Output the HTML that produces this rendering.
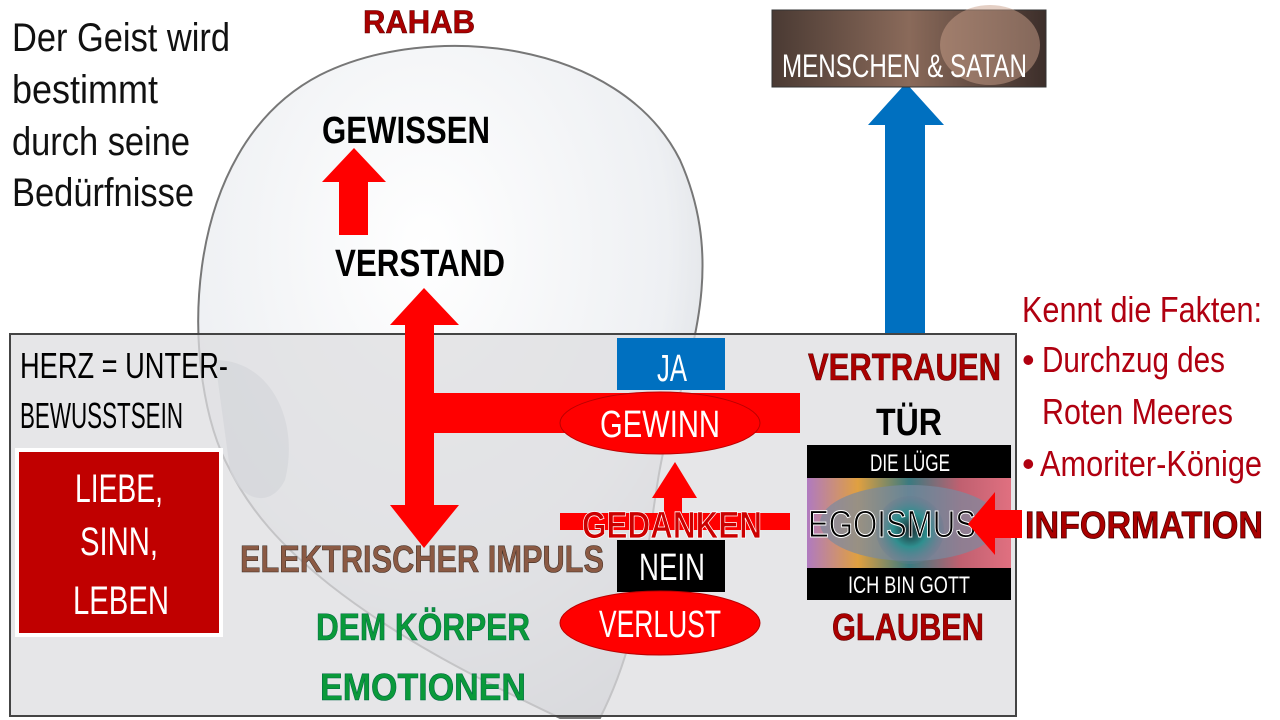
<!DOCTYPE html>
<html><head><meta charset="utf-8"><style>
html,body{margin:0;padding:0;background:#fff;width:1280px;height:720px;overflow:hidden}
svg{display:block}
text{font-family:"Liberation Sans Narrow","Liberation Sans",sans-serif}
</style></head><body>
<svg width="1280" height="720" viewBox="0 0 1280 720" xmlns="http://www.w3.org/2000/svg">
<defs>
<radialGradient id="hg" cx="0.45" cy="0.3" r="0.8">
<stop offset="0" stop-color="#ffffff"/><stop offset="0.6" stop-color="#eef0f3"/><stop offset="1" stop-color="#c9ccd2"/></radialGradient>
<linearGradient id="ph" x1="0" x2="1"><stop offset="0" stop-color="#4a3a33"/><stop offset="0.5" stop-color="#8a6a5a"/><stop offset="1" stop-color="#3c2e2a"/></linearGradient>
<linearGradient id="eye" x1="0" x2="1"><stop offset="0" stop-color="#b07ac0"/><stop offset="0.25" stop-color="#e0a040"/><stop offset="0.5" stop-color="#3a7a80"/><stop offset="0.75" stop-color="#c06070"/><stop offset="1" stop-color="#e07080"/></linearGradient>
<radialGradient id="iris" cx="0.5" cy="0.5" r="0.5"><stop offset="0" stop-color="#1a2a30"/><stop offset="0.5" stop-color="#2f8f8f"/><stop offset="1" stop-color="#6a7a90" stop-opacity="0.3"/></radialGradient>
</defs>
<!-- head -->
<path d="M230,470 C180,380 175,150 320,75 C430,20 620,40 680,160 C720,250 700,330 672,420 C645,500 655,610 600,718 L560,718 C480,680 400,640 330,585 C280,545 250,510 230,470 Z" fill="url(#hg)" stroke="#777" stroke-width="2"/>
<!-- box -->
<rect x="10" y="334" width="1006" height="382" fill="rgba(222,222,224,0.75)" stroke="#444" stroke-width="2"/>
<path d="M215,360 C270,360 300,420 285,480 C270,510 240,500 230,470" fill="#d4d6da" opacity="0.7"/>
<!-- text top left -->
<g font-size="40" fill="#111">
<text x="12" y="51" textLength="218" lengthAdjust="spacingAndGlyphs">Der Geist wird</text>
<text x="12" y="103" textLength="146" lengthAdjust="spacingAndGlyphs">bestimmt</text>
<text x="12" y="155" textLength="178" lengthAdjust="spacingAndGlyphs">durch seine</text>
<text x="12" y="206" textLength="182" lengthAdjust="spacingAndGlyphs">Bedürfnisse</text>
</g>
<text x="363" y="33" font-size="32" font-weight="bold" fill="#a00" stroke="#500" stroke-width="0.6" textLength="112" lengthAdjust="spacingAndGlyphs">RAHAB</text>
<text x="322" y="143" font-size="38" font-weight="bold" fill="#000" textLength="168" lengthAdjust="spacingAndGlyphs">GEWISSEN</text>
<text x="335" y="276" font-size="38" font-weight="bold" fill="#000" textLength="170" lengthAdjust="spacingAndGlyphs">VERSTAND</text>
<!-- red arrows -->
<polygon points="339,235 368,235 368,182 386,182 354,148 322,182 339,182" fill="#f00"/>
<polygon points="405,505 405,325 390,325 424,288 459,325 434,325 434,393 800,393 800,433 434,433 434,505 459,505 424,548 390,505" fill="#f00"/>
<!-- blue arrow -->
<polygon points="885,333 885,125 868,125 906,83 944,125 925,125 925,333" fill="#0070c0"/>
<!-- menschen image -->
<rect x="772" y="10" width="274" height="77" fill="url(#ph)" stroke="#333"/>
<ellipse cx="990" cy="45" rx="50" ry="40" fill="#c9a08a" opacity="0.5"/>
<text x="782" y="77" font-size="32" fill="#fff" textLength="245" lengthAdjust="spacingAndGlyphs">MENSCHEN &amp; SATAN</text>
<!-- HERZ -->
<text x="20" y="378" font-size="36" fill="#000" textLength="208" lengthAdjust="spacingAndGlyphs">HERZ = UNTER-</text>
<text x="20" y="428" font-size="36" fill="#000" textLength="163" lengthAdjust="spacingAndGlyphs">BEWUSSTSEIN</text>
<rect x="17" y="450" width="204" height="185" fill="#c00000" stroke="#fff" stroke-width="4"/>
<g font-size="40" fill="#fff">
<text x="75" y="502" textLength="88" lengthAdjust="spacingAndGlyphs">LIEBE,</text>
<text x="80" y="555" textLength="78" lengthAdjust="spacingAndGlyphs">SINN,</text>
<text x="73" y="614" textLength="96" lengthAdjust="spacingAndGlyphs">LEBEN</text></g>
<!-- JA -->
<rect x="617" y="338" width="108" height="52" fill="#0070c0"/>
<text x="657" y="381" font-size="38" fill="#fff" textLength="30" lengthAdjust="spacingAndGlyphs">JA</text>
<ellipse cx="660" cy="423" rx="100" ry="31" fill="#f00" stroke="#b00" stroke-width="1"/>
<text x="600" y="437" font-size="38" fill="#fff" textLength="120" lengthAdjust="spacingAndGlyphs">GEWINN</text>
<!-- gedanken -->
<rect x="560" y="513" width="230" height="17" fill="#f00"/>
<polygon points="664,513 682,513 682,498 697,498 675,462 652,498 664,498" fill="#f00"/>
<text x="582" y="538" font-size="38" font-weight="bold" fill="#c00" stroke="#fff" stroke-width="0.8" textLength="180" lengthAdjust="spacingAndGlyphs">GEDANKEN</text>
<text x="240" y="572" font-size="38" font-weight="bold" fill="#8b5a44" stroke="#3a2a22" stroke-width="0.6" textLength="364" lengthAdjust="spacingAndGlyphs">ELEKTRISCHER IMPULS</text>
<rect x="617" y="540" width="108" height="52" fill="#000"/>
<text x="639" y="580" font-size="38" fill="#fff" textLength="66" lengthAdjust="spacingAndGlyphs">NEIN</text>
<ellipse cx="660" cy="623" rx="100" ry="32" fill="#f00" stroke="#b00"/>
<text x="599" y="637" font-size="38" fill="#fff" textLength="122" lengthAdjust="spacingAndGlyphs">VERLUST</text>
<text x="316" y="640" font-size="38" font-weight="bold" fill="#0a9a3a" stroke="#064" stroke-width="0.6" textLength="214" lengthAdjust="spacingAndGlyphs">DEM KÖRPER</text>
<text x="320" y="700" font-size="38" font-weight="bold" fill="#0a9a3a" stroke="#064" stroke-width="0.6" textLength="206" lengthAdjust="spacingAndGlyphs">EMOTIONEN</text>
<!-- right column -->
<text x="808" y="380" font-size="38" font-weight="bold" fill="#a00" stroke="#500" stroke-width="0.6" textLength="193" lengthAdjust="spacingAndGlyphs">VERTRAUEN</text>
<text x="876" y="435" font-size="38" font-weight="bold" fill="#000" textLength="66" lengthAdjust="spacingAndGlyphs">TÜR</text>
<rect x="807" y="445" width="204" height="155" fill="url(#eye)"/>
<ellipse cx="910" cy="523" rx="90" ry="38" fill="#7a8aa0" opacity="0.7"/>
<circle cx="910" cy="530" r="34" fill="url(#iris)"/>
<rect x="807" y="445" width="204" height="33" fill="#000"/>
<rect x="807" y="568" width="204" height="32" fill="#000"/>
<text x="870" y="471" font-size="24" fill="#fff" textLength="80" lengthAdjust="spacingAndGlyphs">DIE LÜGE</text>
<text x="848" y="593" font-size="24" fill="#fff" textLength="122" lengthAdjust="spacingAndGlyphs">ICH BIN GOTT</text>
<text x="808" y="537" font-size="38" fill="#000" stroke="#fff" stroke-width="1" textLength="168" lengthAdjust="spacingAndGlyphs">EGOISMUS</text>
<polygon points="1022,510 1022,538 995,538 995,555 968,524 995,492 995,510" fill="#f00"/>
<text x="832" y="640" font-size="38" font-weight="bold" fill="#a00" stroke="#500" stroke-width="0.6" textLength="152" lengthAdjust="spacingAndGlyphs">GLAUBEN</text>
<text x="1025" y="538" font-size="38" font-weight="bold" fill="#a00" stroke="#400" stroke-width="0.8" textLength="238" lengthAdjust="spacingAndGlyphs">INFORMATION</text>
<g font-size="36" fill="#b00010">
<text x="1022" y="322" textLength="240" lengthAdjust="spacingAndGlyphs">Kennt die Fakten:</text>
<text x="1022" y="372">•</text><text x="1042" y="372" textLength="183" lengthAdjust="spacingAndGlyphs">Durchzug des</text>
<text x="1042" y="424" textLength="191" lengthAdjust="spacingAndGlyphs">Roten Meeres</text>
<text x="1022" y="476">•</text><text x="1040" y="476" textLength="222" lengthAdjust="spacingAndGlyphs">Amoriter-Könige</text>
</g>
</svg>
</body></html>
